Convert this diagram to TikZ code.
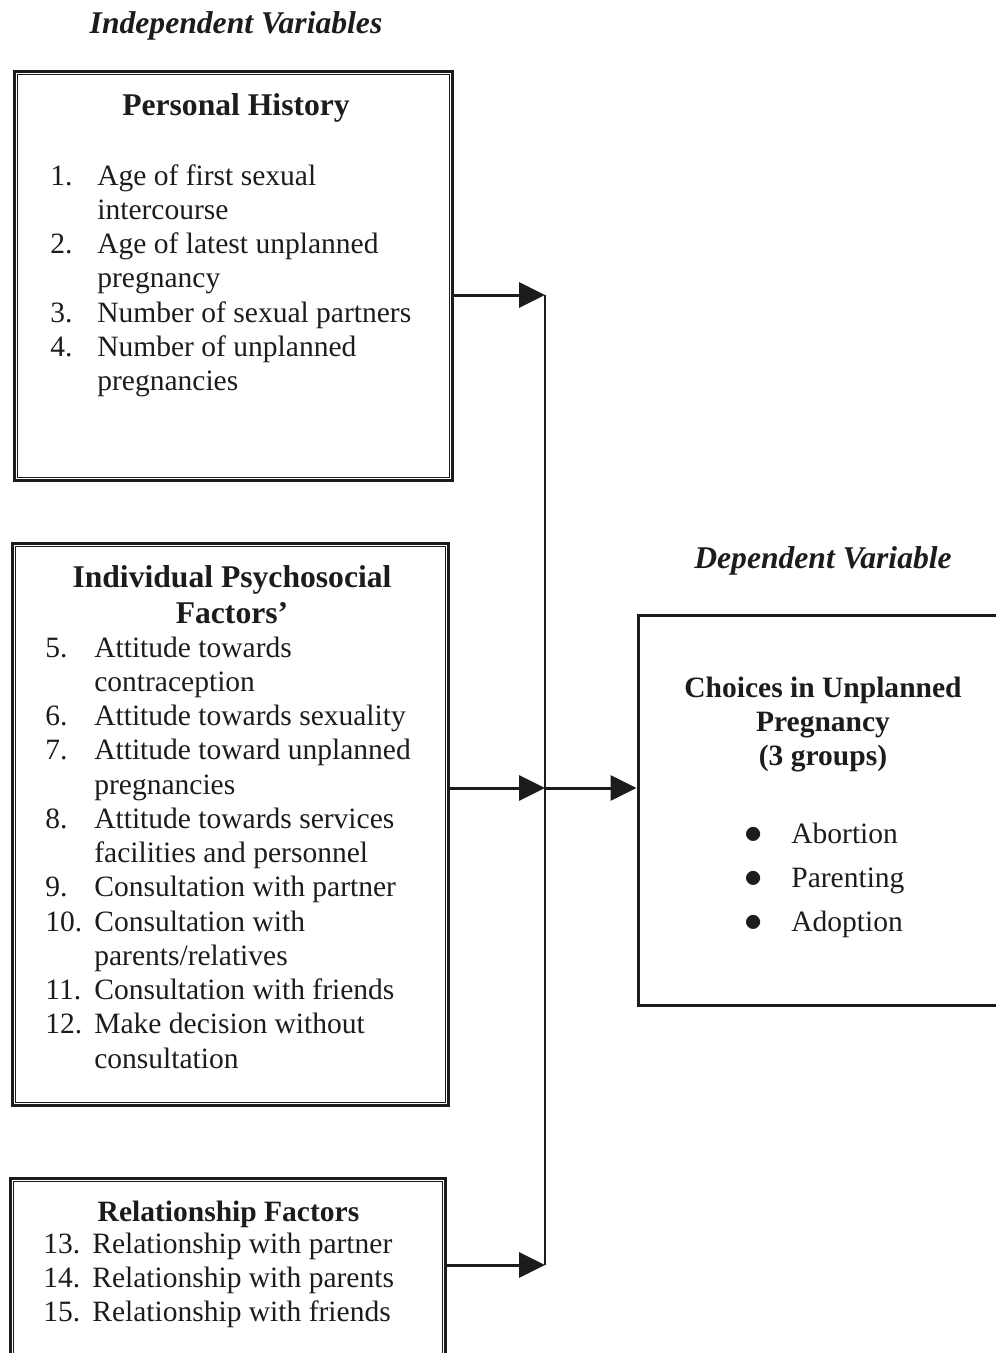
\documentclass[tikz,border=0pt]{standalone}
\usepackage{fontspec}
\setmainfont{Liberation Serif}
\usetikzlibrary{arrows.meta}
\definecolor{Ink}{HTML}{1C1C1C}
\newcommand{\itemfont}{\fontsize{16.8}{19.5}\selectfont}
\newcommand{\titlefont}{\fontsize{18}{20.5}\selectfont\bfseries}
\newcommand{\subtitlefont}{\fontsize{16.8}{19.5}\selectfont\bfseries}
\newcommand{\dotmark}{{\fontsize{20}{20}\selectfont$\bullet$}}
\tikzset{outerbox/.style={draw=Ink,line width=1.7pt,inner sep=0pt},innerline/.style={draw=Ink,line width=0.9pt},heading/.style={font=\fontsize{18}{21}\selectfont\bfseries\itshape,text=Ink,anchor=base,inner sep=0pt},title/.style={font=\titlefont,text=Ink,anchor=base,inner sep=0pt},subtitle/.style={font=\subtitlefont,text=Ink,anchor=base,inner sep=0pt},list/.style={font=\itemfont,text=Ink,anchor=base west,inner sep=0pt},flow/.style={-{Triangle[length=5.2mm,width=5mm]},line width=1.7pt,draw=Ink}}

\begin{document}
\begin{tikzpicture}[x=0.02cm,y=-0.02cm]
  \useasboundingbox (0,0) rectangle (996,1353);
  \clip (0,0) rectangle (996,1353);
  \node[heading](indep) at (236,33){Independent Variables};
  \node[heading](dep) at (823,568){Dependent Variable};
  % independent variable boxes
  \node[outerbox,minimum width=8.78cm,minimum height=8.2cm](ph) at (233.5,276){};
  \node[outerbox,minimum width=8.74cm,minimum height=11.26cm](ipf) at (230.5,824.5){};
  \node[outerbox,minimum width=8.72cm,minimum height=3.6cm](rf) at (228,1268){};
  \draw[innerline]([shift={(5,-5)}]ph.south west) rectangle ([shift={(-5,5)}]ph.north east);
  \draw[innerline]([shift={(5,-5)}]ipf.south west) rectangle ([shift={(-5,5)}]ipf.north east);
  \draw[innerline]([shift={(5,-5)}]rf.south west) rectangle ([shift={(-5,5)}]rf.north east);
  \node[title](phT) at (236,115){Personal History};
  \node[list](phL) at (50,185){\begin{tabular}[t]{@{}p{0.94cm}@{}l@{}}1.&Age of first sexual\\&intercourse\\2.&Age of latest unplanned\\&pregnancy\\3.&Number of sexual partners\\4.&Number of unplanned\\&pregnancies\end{tabular}};
  \node[title](ipfT) at (232,587){\begin{tabular}[t]{@{}c@{}}Individual Psychosocial\\Factors'\end{tabular}};
  \node[list](ipfL) at (45,657){\begin{tabular}[t]{@{}p{0.98cm}@{}l@{}}5.&Attitude towards\\&contraception\\6.&Attitude towards sexuality\\7.&Attitude toward unplanned\\&pregnancies\\8.&Attitude towards services\\&facilities and personnel\\9.&Consultation with partner\\10.&Consultation with\\&parents/relatives\\11.&Consultation with friends\\12.&Make decision without\\&consultation\end{tabular}};
  \node[subtitle](rfT) at (228.5,1221){Relationship Factors};
  \node[list](rfL) at (43,1253){\begin{tabular}[t]{@{}p{0.98cm}@{}l@{}}13.&Relationship with partner\\14.&Relationship with parents\\15.&Relationship with friends\end{tabular}};
  % dependent variable
  \node[outerbox,minimum width=7.44cm,minimum height=7.82cm](cup) at (824,810.5){};
  \node[subtitle](cupT) at (823,697){\begin{tabular}[t]{@{}c@{}}Choices in Unplanned\\Pregnancy\\(3 groups)\end{tabular}};
  \node[list](cupL) at (744,843){\renewcommand{\arraystretch}{1.29}\begin{tabular}[t]{@{}p{0.94cm}@{}l@{}}\dotmark&Abortion\\\dotmark&Parenting\\\dotmark&Adoption\end{tabular}};
  % connectors
  \coordinate(jtop) at (545,295);
  \coordinate(jmid) at (545,788);
  \coordinate(jbot) at (545,1265);
  \draw[line width=1.7pt,draw=Ink](jtop)--(jbot);
  \draw[flow](ph.east |- jtop)--(jtop);
  \draw[flow](ipf.east |- jmid)--(jmid);
  \draw[flow](rf.east |- jbot)--(jbot);
  \draw[flow](jmid)--(cup.west |- jmid);
\end{tikzpicture}
\end{document}
